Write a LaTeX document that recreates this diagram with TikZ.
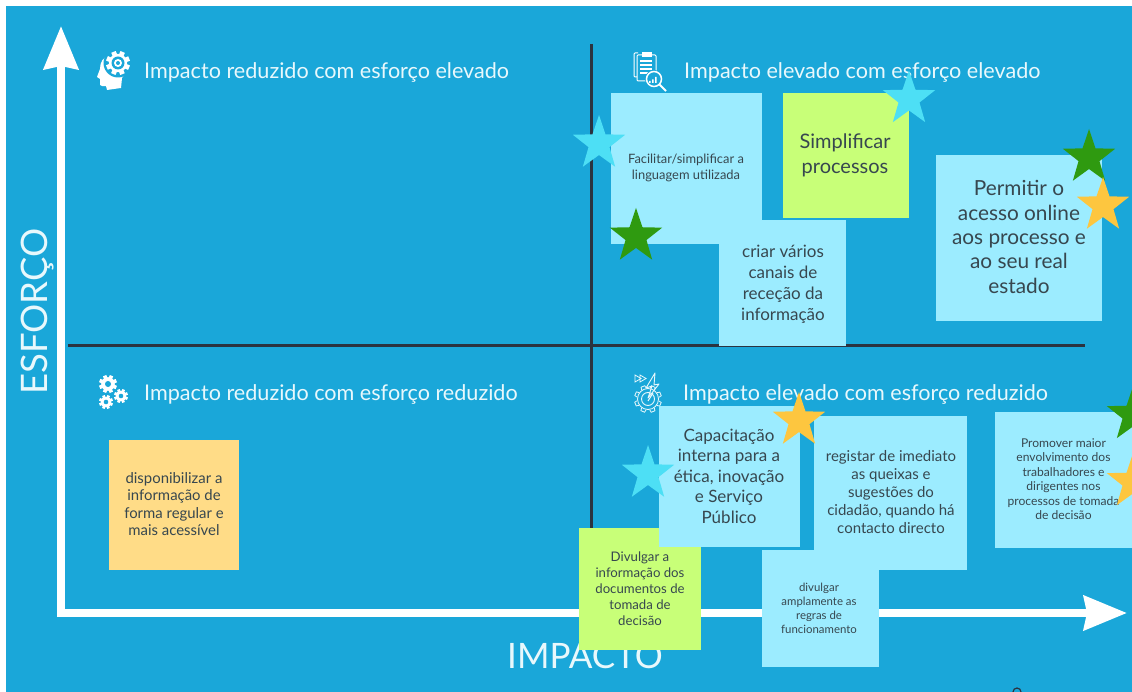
\documentclass[tikz,border=0pt]{standalone}
\usepackage{fontspec}
\setmainfont{Lato}
\usetikzlibrary{shapes.geometric,arrows.meta}
\definecolor{bgblue}{HTML}{1AA7D9}
\definecolor{noteblue}{HTML}{9CECFF}
\definecolor{notegreen}{HTML}{C8FF78}
\definecolor{noteyellow}{HTML}{FFDC87}
\definecolor{starcyan}{HTML}{4DDFF5}
\definecolor{stargreen}{HTML}{2F9A10}
\definecolor{staryellow}{HTML}{FDC63F}
\definecolor{gridink}{HTML}{2B3340}
\definecolor{noteink}{HTML}{37474F}
\definecolor{headink}{HTML}{E8F8FC}
\newcommand{\fs}[2]{\fontsize{#1}{#2}\selectfont}
\newcommand{\gearicon}[5]{% x y R hole colour: solid gear with a hole
  \begin{scope}[shift={(#1,#2)}]
    \foreach \a in {0,45,...,315}{
      \fill[#5,rotate=\a+22] (-#3*0.2,0) rectangle (#3*0.2,#3);
    }
    \fill[#5] (0,0) circle[radius=#3*0.76];
    \fill[bgblue] (0,0) circle[radius=#4];
  \end{scope}}
\newcommand{\badgestar}[4]{% name colour x y
  \begin{scope}[shift={(#3,#4)},yscale=1.04]
    \node[badge,fill=#2,transform shape] (#1) at (0,0) {};
  \end{scope}}
\tikzset{
  x=1pt,y=-1pt,
  sticky/.style={draw=none,rectangle,inner sep=0pt,anchor=north west},
  note/.style={text=noteink,align=center,inner sep=0pt},
  heading/.style={text=headink,anchor=west,inner sep=0pt,font=\fs{21.6}{25}},
  axislabel/.style={text=headink,inner sep=0pt},
  badge/.style={star,star points=5,star point ratio=2.5,draw=none,inner sep=0pt,minimum size=55pt},
  gridline/.style={draw=gridink,line width=3pt},
  axisline/.style={draw=white,line width=8pt,-{Stealth[length=43pt,width=34pt,inset=3pt]}},
  iconline/.style={draw=white,line width=1pt}
}
\begin{document}
\begin{tikzpicture}
\useasboundingbox (0,0) rectangle (1132,692);
\clip (0,0) rectangle (1132,692);
\fill[bgblue] (6,6) rectangle (1132,692);

% grid lines
\coordinate (gl) at (68,346); \coordinate (gr) at (1085,346);
\coordinate (gt) at (591,44); \coordinate (gb) at (591,530);
\draw[gridline] (gl) -- (gr);
\draw[gridline] (gt) -- (gb);

% axes
\coordinate (oy) at (61,617); \coordinate (ytip) at (61,26);
\coordinate (ox) at (57,613); \coordinate (xtip) at (1127,613);
\draw[axisline] (oy) -- (ytip);
\draw[axisline] (ox) -- (xtip);

% axis labels
\node[axislabel,rotate=90,font=\fs{36.5}{42}] (yl) at (38,311.5) {ESFORÇO};
\node[axislabel,font=\fs{35}{42}] (xl) at (585,656) {IMPACTO};

% headings
\node[heading] (h1) at (144,72) {Impacto reduzido com esforço elevado};
\node[heading] (h2) at (684,72) {Impacto elevado com esforço elevado};
\node[heading] (h3) at (144,394) {Impacto reduzido com esforço reduzido};
\node[heading] (h4) at (683,394) {Impacto elevado com esforço reduzido};

% icon: head with gear
\fill[white] (110,55) .. controls (103,57) and (100,62) .. (100,69)
  -- (97,77) -- (100,79) -- (100,85) .. controls (101,87) and (104,86) .. (106,86)
  -- (107,90) -- (121,88) -- (122,78) -- (128,70) -- (120,55) -- cycle;
\fill[bgblue] (118,63) circle[radius=14.5];
\gearicon{118}{63}{12}{6.5}{white}
\fill[white] (118,63) circle[radius=4];
\fill[bgblue] (118,63) circle[radius=2];

% icon: three gears
\gearicon{108}{384}{9}{3}{white}
\gearicon{121}{396}{7}{2.3}{white}
\gearicon{106}{402}{7}{2.3}{white}

% icon: clipboards and lens
\draw[iconline,rounded corners=1pt] (638,53) -- (634,53) -- (634,77) -- (637,77);
\draw[iconline,rounded corners=1pt] (637,55) rectangle (656,81);
\fill[white] (642,52) rectangle (652,57);
\foreach \yy in {61,65,69,73}{\draw[white,line width=1.2pt] (640,\yy) -- (652,\yy);}
\fill[bgblue] (654,79) circle[radius=9];
\draw[white,line width=1.5pt] (654,79) circle[radius=7.5];
\draw[white,line width=2pt] (659.5,84.5) -- (666,91);
\fill[white] (649,81) rectangle (650.5,83) (652,79.5) rectangle (653.5,83) (655,77) rectangle (656.5,83);

% icon: gear outline with bolt
\begin{scope}[shift={(648,399)}]
  \foreach \a in {0,45,...,315}{
    \draw[headink,line width=.8pt,rotate=\a+22] (-2.5,-10.5) -- (-2,-13.5) -- (2,-13.5) -- (2.5,-10.5);
  }
  \draw[headink,line width=.8pt] (0,0) circle[radius=10.5];
  \fill[bgblue] (0,0) circle[radius=8];
  \draw[headink,line width=.9pt] (0,0) circle[radius=6.5];
  \draw[headink,line width=1pt] (0,2) -- (5,-6);
\end{scope}
\draw[headink,line width=.9pt,line join=round] (655,373) -- (646,388) -- (652,386) -- (648,398) -- (659,384) -- (654,385) -- cycle;
\draw[headink,line width=.8pt] (635,375) -- (641,378.5) -- (635,382) -- cycle (640,375) -- (646,378.5) -- (640,382) -- cycle;

% sticky notes
\node[sticky,fill=noteblue,minimum width=151pt,minimum height=151pt] (a) at (611,93) {};
\node[sticky,fill=noteblue,minimum width=127pt,minimum height=126pt] (b) at (719,220) {};
\node[sticky,fill=notegreen,minimum width=126pt,minimum height=125pt] (c) at (783,93) {};
\node[sticky,fill=noteblue,minimum width=166pt,minimum height=166pt] (d) at (936,155) {};
\node[sticky,fill=noteyellow,minimum width=130pt,minimum height=130pt] (j) at (109,440) {};
\node[sticky,fill=noteblue,minimum width=153pt,minimum height=154pt] (f) at (814,416) {};
\node[sticky,fill=noteblue,minimum width=138pt,minimum height=136pt] (g) at (995,412) {};
\node[sticky,fill=notegreen,minimum width=122pt,minimum height=122pt] (h) at (579,528) {};
\node[sticky,fill=noteblue,minimum width=141pt,minimum height=141pt] (e) at (659,406) {};
\node[sticky,fill=noteblue,minimum width=117pt,minimum height=117pt] (i) at (762,550) {};

% note texts
\node[note,font=\fs{12.9}{16}] (at) at (686,168) {Facilitar/simplificar a\\linguagem utilizada};
\node[note,font=\fs{17}{21}] (bt) at (783,284) {criar vários\\canais de\\receção da\\informação};
\node[note,font=\fs{20}{25}] (ct) at (845,155) {Simplificar\\processos};
\node[note,font=\fs{20.8}{24.3}] (dt) at (1019,237) {Permitir o\\acesso online\\aos processo e\\ao seu real\\estado};
\node[note,font=\fs{14.9}{17.5}] (jt) at (174,504) {disponibilizar a\\informação de\\forma regular e\\mais acessível};
\node[note,font=\fs{17}{20.5}] (et) at (729,476) {Capacitação\\interna para a\\ética, inovação\\e Serviço\\Público};
\node[note,font=\fs{15}{18}] (ft) at (891,492) {registar de imediato\\as queixas e\\sugestões do\\cidadão, quando há\\contacto directo};
\node[note,font=\fs{12.1}{14.5}] (gt2) at (1063.5,479) {Promover maior\\envolvimento dos\\trabalhadores e\\dirigentes nos\\processos de tomada\\de decisão};
\node[note,font=\fs{13.2}{16}] (ht) at (640,589) {Divulgar a\\informação dos\\documentos de\\tomada de\\decisão};
\node[note,font=\fs{11.4}{14}] (it) at (819,608) {divulgar\\amplamente as\\regras de\\funcionamento};

% stars
\badgestar{s1}{starcyan}{599}{143.6}
\badgestar{s2}{starcyan}{909}{99}
\badgestar{s3}{stargreen}{636}{236.5}
\badgestar{s4}{stargreen}{1089}{157.6}
\badgestar{s5}{staryellow}{1103}{205.6}
\badgestar{s6}{staryellow}{799}{420.6}
\badgestar{s7}{starcyan}{648}{473.6}
\badgestar{s8}{stargreen}{1133}{415}
\badgestar{s9}{staryellow}{1133}{482}

% cut-off mark at the lower edge
\draw[gridink,line width=1.2pt] (1017,692) circle[radius=4];
\end{tikzpicture}
\end{document}
